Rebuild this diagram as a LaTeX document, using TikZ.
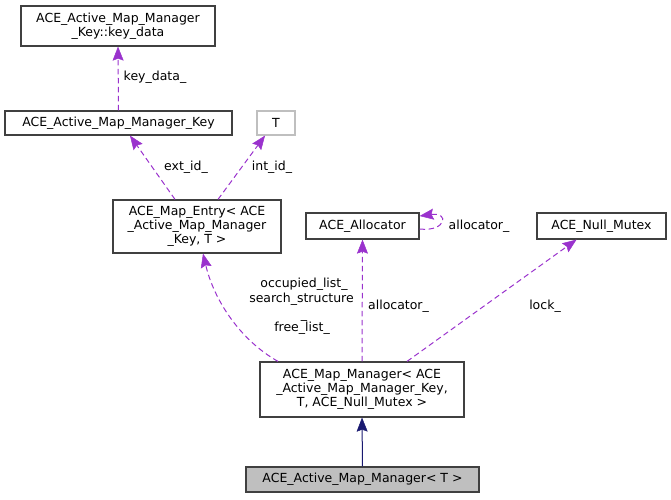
\documentclass[tikz,border=0pt]{standalone}
\usepackage{fontspec}
\setmainfont{DejaVu Sans}
\usetikzlibrary{arrows.meta}
\definecolor{edgepurple}{HTML}{9A32CD}
\definecolor{inhblue}{HTML}{191970}
\definecolor{boxgray}{HTML}{404040}
\definecolor{lightgray}{HTML}{BFBFBF}
\begin{document}
\begin{tikzpicture}[x=1pt,y=-1pt,
  every node/.style={font=\fontsize{12.5}{14}\selectfont, inner sep=0pt},
  cls/.style={draw=boxgray, line width=1.2pt, align=center, fill=white},
  dep/.style={draw=edgepurple, line width=1pt, dash pattern=on 5.5pt off 3.5pt,
     -{Stealth[length=14pt,width=11pt,inset=2pt,fill=edgepurple,line width=0.5pt]}},
  inh/.style={draw=inhblue, line width=1pt, -{Stealth[length=14pt,width=11pt,inset=2pt,fill=inhblue,line width=0.5pt]}},
  lbl/.style={text=black}]
\useasboundingbox (0,0) rectangle (671,499);
% nodes
\node[cls, minimum width=194pt, minimum height=40pt] (kd) at (118,26) {ACE\_Active\_Map\_Manager\\\_Key::key\_data};
\node[cls, minimum width=227pt, minimum height=24pt] (key) at (118.5,123) {ACE\_Active\_Map\_Manager\_Key};
\node[cls, draw=lightgray, minimum width=38pt, minimum height=24pt] (T) at (276,123) {T};
\node[cls, minimum width=168pt, minimum height=53pt] (me) at (197,226.5) {ACE\_Map\_Entry< ACE\\\_Active\_Map\_Manager\\\_Key, T >};
\node[cls, minimum width=113pt, minimum height=26pt] (alloc) at (362.5,226) {ACE\_Allocator};
\node[cls, minimum width=129pt, minimum height=26pt] (mutex) at (601.5,226) {ACE\_Null\_Mutex};
\node[cls, minimum width=204pt, minimum height=55pt] (mm) at (362,389.5) {ACE\_Map\_Manager< ACE\\\_Active\_Map\_Manager\_Key,\\T, ACE\_Null\_Mutex >};
\node[cls, fill=lightgray, minimum width=233pt, minimum height=25pt] (amm) at (362.5,479.5) {ACE\_Active\_Map\_Manager< T >};
% coordinates for free ends of the self loop (yshift is in canvas units: up is positive)
\coordinate (aout) at ([yshift=-3pt]alloc.east);
\coordinate (ain) at ([yshift=10pt]alloc.east);
% edges
\draw[dep] (key.north) -- (kd.south);
\draw[dep] ([xshift=-22pt]me.north) -- ([xshift=11.5pt]key.south);
\draw[dep] ([xshift=21pt]me.north) -- ([xshift=-11pt]T.south);
\draw[dep] ([xshift=-84pt]mm.north) .. controls (240,340) and (214,300) .. ([xshift=6pt]me.south);
\draw[dep] (mm.north) -- (alloc.south);
\draw[dep] (aout) .. controls (446,232) and (450,212) .. (ain);
\draw[dep] ([xshift=45pt]mm.north) -- ([xshift=-25pt]mutex.south);
\draw[inh] (amm.north) -- (mm.south);
% labels
\node[lbl] (l1) at (155,77) {key\_data\_};
\node[lbl] (l2) at (186,167) {ext\_id\_};
\node[lbl] (l3) at (272,167) {int\_id\_};
\node[lbl] (l4) at (479,226) {allocator\_};
\node[lbl] (l5) at (304,284) {occupied\_list\_};
\node[lbl] (l6) at (301.5,299) {search\_structure};
\node[lbl, anchor=base] (l7) at (304,318) {\_};
\node[lbl] (l8) at (302,328) {free\_list\_};
\node[lbl] (l9) at (398.5,306) {allocator\_};
\node[lbl] (l10) at (545,306) {lock\_};
\end{tikzpicture}
\end{document}
